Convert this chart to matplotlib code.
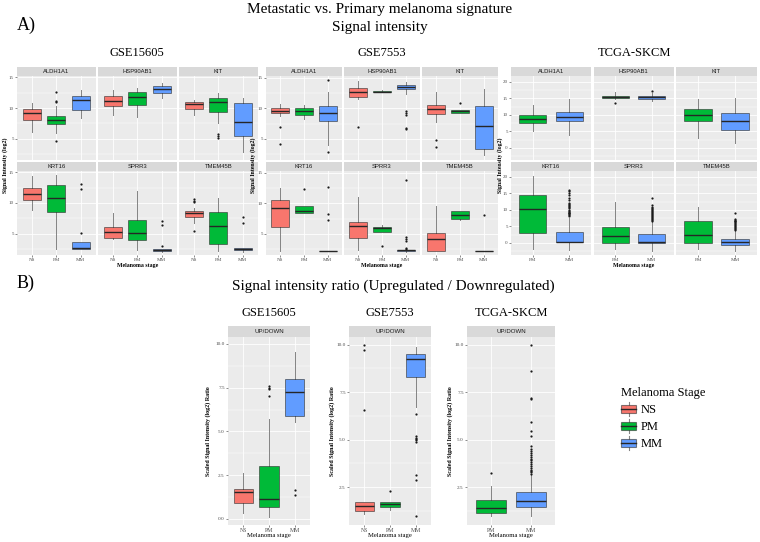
import matplotlib
matplotlib.use("Agg")
import matplotlib.pyplot as plt
from matplotlib.patches import Rectangle, Patch
from matplotlib.lines import Line2D
from matplotlib.legend_handler import HandlerBase

SERIF = ['Liberation Serif', 'DejaVu Serif']
SANS = ['Liberation Sans', 'DejaVu Sans']
plt.rcParams['font.family'] = SERIF

# ---------------- data ----------------
GENES = ["ALDH1A1", "HSP90AB1", "KIT", "KRT16", "SPRR3", "TMEM45B"]
STAGES_ARRAY = ["NS", "PM", "MM"]
STAGES_TCGA = ["PM", "MM"]
STAGE_COLORS = {"NS": "#F8766D", "PM": "#00BA38", "MM": "#619CFF"}

# per stage: [lower whisker, Q1, median, Q3, upper whisker]
gse15605_aldh1a1 = [[6.1, 8.0, 9.2, 9.9, 10.8], [6.0, 7.4, 8.0, 8.7, 10.3], [8.3, 9.6, 11.3, 11.9, 12.9]]
gse15605_aldh1a1_out = [[], [12.6, 11.2, 10.9, 4.6], []]
gse15605_hsp90ab1 = [[8.8, 10.4, 11.1, 12.0, 12.9], [8.6, 10.5, 11.8, 12.6, 13.2], [11.7, 12.5, 13.1, 13.6, 14.0]]
gse15605_hsp90ab1_out = [[], [], []]
gse15605_kit = [[8.9, 9.8, 10.7, 11.0, 11.3], [7.5, 9.3, 10.9, 11.6, 12.4], [2.9, 5.5, 7.8, 10.8, 11.6]]
gse15605_kit_out = [[], [5.7, 5.4, 5.2], []]
gse15605_krt16 = [[8.9, 10.5, 11.5, 12.5, 14.4], [2.6, 8.5, 10.8, 13.0, 14.6], [2.6, 2.6, 2.7, 3.6, 3.6]]
gse15605_krt16_out = [[], [], [13.1, 12.3, 5.2]]
gse15605_sprr3 = [[4.1, 4.35, 5.3, 6.1, 8.4], [2.4, 4.0, 5.2, 7.2, 12.0], [2.1, 2.2, 2.35, 2.6, 2.6]]
gse15605_sprr3_out = [[], [], [7.0, 6.4, 3.0]]
gse15605_tmem45b = [[6.8, 7.7, 8.3, 8.7, 9.2], [2.2, 3.3, 6.3, 8.6, 10.8], [2.1, 2.3, 2.45, 2.75, 2.75]]
gse15605_tmem45b_out = [[10.7, 10.4, 10.1, 5.4], [], [7.7, 6.7]]

gse7553_aldh1a1 = [[8.8, 9.2, 9.6, 10.0, 10.7], [8.2, 8.9, 9.6, 10.1, 10.5], [4.0, 7.9, 9.2, 10.4, 12.6]]
gse7553_aldh1a1_out = [[6.9, 4.2], [], [14.7, 2.9]]
gse7553_hsp90ab1 = [[11.6, 11.9, 12.6, 13.4, 14.5], [12.6, 12.6, 12.7, 12.9, 13.0], [12.4, 13.1, 13.5, 13.9, 14.3]]
gse7553_hsp90ab1_out = [[6.9], [], [9.6, 9.2, 8.9, 6.8, 6.6]]
gse7553_kit = [[7.8, 9.1, 9.9, 10.6, 12.7], [9.2, 9.2, 9.6, 9.7, 9.7], [2.4, 3.3, 7.1, 10.4, 13.1]]
gse7553_kit_out = [[4.8, 3.6], [10.8], []]
gse7553_krt16 = [[2.2, 6.1, 9.2, 10.5, 12.5], [8.5, 8.5, 8.7, 9.6, 9.6], [2.2, 2.2, 2.2, 2.2, 2.2]]
gse7553_krt16_out = [[], [12.4], [12.7, 8.2, 7.2]]
gse7553_sprr3 = [[2.3, 4.4, 6.3, 7.0, 11.0], [5.3, 5.3, 5.9, 6.2, 6.4], [2.1, 2.2, 2.3, 2.4, 2.4]]
gse7553_sprr3_out = [[], [3.1], [13.8, 4.5, 4.1, 3.9, 2.7, 2.6]]
gse7553_tmem45b = [[2.2, 2.2, 4.2, 5.2, 9.6], [7.2, 7.4, 8.1, 8.7, 8.8], [2.2, 2.2, 2.2, 2.2, 2.2]]
gse7553_tmem45b_out = [[], [], [8.1]]

tcga_aldh1a1 = [[5.0, 7.5, 8.6, 10.0, 13.0], [3.8, 8.0, 9.5, 11.0, 14.8]]
tcga_aldh1a1_out = [[], []]
tcga_hsp90ab1 = [[14.8, 15.0, 15.3, 15.8, 16.8], [14.3, 14.8, 15.3, 15.8, 16.5]]
tcga_hsp90ab1_out = [[13.5], [17.3]]
tcga_kit = [[3.0, 8.0, 10.0, 11.8, 14.8], [1.6, 5.5, 8.2, 10.5, 15.1]]
tcga_kit_out = [[], []]
tcga_krt16 = [[-1.8, 3.1, 10.2, 14.6, 20.4], [-2.2, 0.1, 0.2, 3.2, 7.6]]
tcga_krt16_out = [[], [15.9, 15.6, 15.0, 14.4, 13.6, 13.0, 12.2, 11.9, 11.6, 11.2, 10.8, 10.5,
                       10.1, 9.8, 9.5, 9.2, 8.9, 8.6, 8.3, 8.0]]
tcga_sprr3 = [[-1.8, 0.0, 2.0, 4.8, 12.3], [-2.4, 0.0, 0.1, 2.6, 6.2]]
tcga_sprr3_out = [[], [13.6, 11.4, 11.0, 10.6, 10.2, 9.9, 9.6, 9.3, 9.0, 8.7, 8.4, 8.1, 7.8,
                       7.5, 7.2, 6.9, 6.6]]
tcga_tmem45b = [[-2.0, 0.0, 2.3, 6.5, 10.8], [-2.4, -0.8, 0.1, 1.1, 3.6]]
tcga_tmem45b_out = [[], [9.0, 7.1, 6.9, 6.7, 6.5, 6.3, 6.0, 5.7, 5.4, 5.1, 4.8, 4.5, 4.2, 3.9]]

# ratio (UP/DOWN)
ratio_gse15605 = [[0.36, 0.9, 1.54, 1.71, 2.63], [0.13, 0.67, 1.13, 3.01, 5.7], [5.55, 5.9, 7.24, 7.98, 9.56]]
ratio_gse15605_out = [[], [7.57, 7.5, 7.45, 7.05], [1.67, 1.34]]
ratio_gse7553 = [[1.06, 1.22, 1.49, 1.7, 1.7], [1.28, 1.44, 1.58, 1.73, 1.73], [6.72, 8.31, 9.24, 9.5, 9.86]]
ratio_gse7553_out = [[10.0, 9.7, 6.55], [2.3], [6.37, 5.17, 5.1, 5.03, 4.95, 4.88, 3.12, 2.87, 0.96]]
ratio_tcga = [[0.96, 1.14, 1.4, 1.83, 2.53], [0.96, 1.43, 1.75, 2.22, 3.15]]
ratio_tcga_out = [[3.23], [10.0, 8.62, 7.2, 7.15, 5.9, 5.45, 5.2, 4.65, 4.5, 4.4, 4.3, 4.2, 4.1,
                          4.0, 3.9, 3.8, 3.7, 3.6, 3.5, 3.42, 3.35, 3.28, 3.2]]

# ---------------- styling ----------------
W, H = 760, 542
fig = plt.figure(figsize=(W / 100, H / 100), dpi=100)
fig.patch.set_facecolor('white')

PANEL_BG = '#EBEBEB'
STRIP_BG = '#D9D9D9'
EDGE = (0.2, 0.2, 0.2, 0.6)
MEDC = '#262626'
TICKC = '#4D4D4D'


def px_axes(x0, y0, x1, y1):
    return fig.add_axes([x0 / W, 1 - y1 / H, (x1 - x0) / W, (y1 - y0) / H])


def ftext(x, y, s, **kw):
    fig.text(x / W, 1 - y / H, s, **kw)


def strip(x0, y0, x1, y1, label, size=4.2):
    sax = px_axes(x0, y0, x1, y1)
    sax.set_facecolor(STRIP_BG)
    sax.set_xticks([]); sax.set_yticks([])
    for s in sax.spines.values():
        s.set_visible(False)
    sax.text(0.5, 0.5, label, ha='center', va='center', fontsize=size,
             family=SANS, color='#1A1A1A', transform=sax.transAxes)


def panel(x0, y0, x1, y1, stages, stats, outs, ylim, yticks, yminor,
          show_y, show_x, yfmt, ytick_size=3.6, xtick_size=3.6):
    ax = px_axes(x0, y0, x1, y1)
    ax.set_facecolor(PANEL_BG)
    for s in ax.spines.values():
        s.set_visible(False)
    n = len(stages)
    bstats = []
    for st, row, out in zip(stages, stats, outs):
        lo, q1, med, q3, hi = row
        bstats.append(dict(whislo=lo, q1=q1, med=med, q3=q3, whishi=hi, fliers=out, label=st))
    bp = ax.bxp(bstats, positions=list(range(1, n + 1)), widths=0.75, patch_artist=True,
                showcaps=False,
                boxprops=dict(edgecolor=EDGE, linewidth=0.7),
                whiskerprops=dict(color=EDGE, linewidth=0.7),
                medianprops=dict(color=MEDC, linewidth=1.0),
                flierprops=dict(marker='o', markersize=1.6, markerfacecolor='#1A1A1A',
                                markeredgecolor='none'))
    for patch, st in zip(bp['boxes'], stages):
        patch.set_facecolor(STAGE_COLORS[st])
    ax.set_xlim(0.4, n + 0.6)
    ax.set_ylim(*ylim)
    ax.set_xticks(list(range(1, n + 1)))
    ax.set_yticks(yticks)
    ax.set_yticks(yminor, minor=True)
    ax.set_axisbelow(True)
    ax.grid(which='major', color='white', linewidth=0.6)
    ax.grid(which='minor', axis='y', color='white', linewidth=0.3)
    ax.tick_params(which='minor', length=0)
    if show_y:
        ax.set_yticklabels([yfmt(v) for v in yticks], fontsize=ytick_size, color=TICKC)
        ax.tick_params(axis='y', length=1.5, width=0.4, color='#333333', pad=0.8)
    else:
        ax.set_yticklabels([])
        ax.tick_params(axis='y', length=0)
    if show_x:
        ax.set_xticklabels(stages, fontsize=xtick_size, color=TICKC)
        ax.tick_params(axis='x', length=1.5, width=0.4, color='#333333', pad=0.8)
    else:
        ax.set_xticklabels([])
        ax.tick_params(axis='x', length=0)
    return ax


fmt_int = lambda v: f"{v:g}"
fmt_1 = lambda v: f"{v:.1f}"

# ---------------- titles ----------------
ftext(380, 10, "Metastatic vs. Primary melanoma signature", ha='center', va='center', fontsize=11)
ftext(380, 28, "Signal intensity", ha='center', va='center', fontsize=11)
ftext(17, 25, "A)", ha='left', va='center', fontsize=13)
ftext(17, 283, "B)", ha='left', va='center', fontsize=13)
ftext(232, 286, "Signal intensity ratio (Upregulated / Downregulated)", ha='left', va='center', fontsize=11)

# ---------------- section A ----------------
ROWS_A = [(67, 76, 160), (162, 171, 255)]
groups_a = [
    dict(name="GSE15605", stages=STAGES_ARRAY,
         stats=[gse15605_aldh1a1, gse15605_hsp90ab1, gse15605_kit, gse15605_krt16, gse15605_sprr3, gse15605_tmem45b],
         outs=[gse15605_aldh1a1_out, gse15605_hsp90ab1_out, gse15605_kit_out, gse15605_krt16_out,
               gse15605_sprr3_out, gse15605_tmem45b_out],
         cols=[(17, 95.5), (98, 176.5), (179, 257.5)], ylim=(1.55, 15.2),
         yticks=[5, 10, 15], yminor=[2.5, 7.5, 12.5], ylab_x=5),
    dict(name="GSE7553", stages=STAGES_ARRAY,
         stats=[gse7553_aldh1a1, gse7553_hsp90ab1, gse7553_kit, gse7553_krt16, gse7553_sprr3, gse7553_tmem45b],
         outs=[gse7553_aldh1a1_out, gse7553_hsp90ab1_out, gse7553_kit_out, gse7553_krt16_out,
               gse7553_sprr3_out, gse7553_tmem45b_out],
         cols=[(266, 342), (344, 420), (422, 498)], ylim=(1.55, 15.3),
         yticks=[5, 10, 15], yminor=[2.5, 7.5, 12.5], ylab_x=253),
    dict(name="TCGA-SKCM", stages=STAGES_TCGA,
         stats=[tcga_aldh1a1, tcga_hsp90ab1, tcga_kit, tcga_krt16, tcga_sprr3, tcga_tmem45b],
         outs=[tcga_aldh1a1_out, tcga_hsp90ab1_out, tcga_kit_out, tcga_krt16_out,
               tcga_sprr3_out, tcga_tmem45b_out],
         cols=[(511, 591), (593.5, 673.5), (676, 757)], ylim=(-3.7, 21.8),
         yticks=[0, 5, 10, 15, 20], yminor=[-2.5, 2.5, 7.5, 12.5, 17.5], ylab_x=500.5),
]

for g in groups_a:
    cx = (g['cols'][0][0] + g['cols'][-1][1]) / 2
    ftext(cx, 53, g['name'], ha='center', va='center', fontsize=9)
    for gi, gene in enumerate(GENES):
        r, c = divmod(gi, 3)
        st, pt, pb = ROWS_A[r]
        x0, x1 = g['cols'][c]
        strip(x0, st, x1, pt, gene)
        panel(x0, pt, x1, pb, g['stages'], g['stats'][gi], g['outs'][gi], g['ylim'],
              g['yticks'], g['yminor'], show_y=(c == 0), show_x=(r == 1), yfmt=fmt_int)
    ftext(g['ylab_x'], (76 + 255) / 2, "Signal Intensity (log2)", rotation=90, ha='center',
          va='center', fontsize=4.2, fontweight='bold')
    ftext(cx, 265.5, "Melanoma stage", ha='center', va='center', fontsize=4.2, fontweight='bold')

# ---------------- section B ----------------
groups_b = [
    dict(name="GSE15605", stages=STAGES_ARRAY, stats=ratio_gse15605, outs=ratio_gse15605_out,
         x=(228, 310), ylim=(-0.35, 10.4), yticks=[0, 2.5, 5, 7.5, 10],
         yminor=[1.25, 3.75, 6.25, 8.75], ylab_x=208),
    dict(name="GSE7553", stages=STAGES_ARRAY, stats=ratio_gse7553, outs=ratio_gse7553_out,
         x=(349, 431), ylim=(0.5, 10.4), yticks=[2.5, 5, 7.5, 10],
         yminor=[1.25, 3.75, 6.25, 8.75], ylab_x=332),
    dict(name="TCGA-SKCM", stages=STAGES_TCGA, stats=ratio_tcga, outs=ratio_tcga_out,
         x=(467, 555), ylim=(0.5, 10.4), yticks=[2.5, 5, 7.5, 10],
         yminor=[1.25, 3.75, 6.25, 8.75], ylab_x=450),
]
for g in groups_b:
    x0, x1 = g['x']
    cx = (x0 + x1) / 2
    ftext(cx, 313, g['name'], ha='center', va='center', fontsize=9)
    strip(x0, 326, x1, 337, "UP/DOWN", size=4.4)
    panel(x0, 337, x1, 525, g['stages'], g['stats'], g['outs'], g['ylim'], g['yticks'],
          g['yminor'], show_y=True, show_x=True, yfmt=fmt_1, ytick_size=3.8, xtick_size=4.2)
    ftext(g['ylab_x'], (337 + 525) / 2, "Scaled Signal Intensity (log2) Ratio", rotation=90,
          ha='center', va='center', fontsize=4.3, fontweight='bold')
    ftext(cx, 536, "Melanoma stage", ha='center', va='center', fontsize=4.8)


# ---------------- legend ----------------
class BoxKey(HandlerBase):
    def create_artists(self, legend, orig_handle, xdescent, ydescent, width, height, fontsize, trans):
        x0, y0 = -xdescent, -ydescent
        fc = orig_handle.get_facecolor()
        whisk = Line2D([x0 + width / 2, x0 + width / 2], [y0, y0 + height], color=EDGE,
                       linewidth=0.8, transform=trans)
        box = Rectangle((x0, y0 + height * 0.22), width, height * 0.56, facecolor=fc,
                        edgecolor=EDGE, linewidth=0.8, transform=trans)
        med = Line2D([x0, x0 + width], [y0 + height / 2] * 2, color=MEDC, linewidth=1.0,
                     transform=trans)
        return [whisk, box, med]


handles = [Patch(facecolor=STAGE_COLORS[s], label=s) for s in STAGES_ARRAY]
fig.legend(handles=handles, labels=STAGES_ARRAY, loc='upper left',
           bbox_to_anchor=(621 / W, 1 - 387 / H), frameon=False,
           title="Melanoma Stage", prop=dict(family=SERIF, size=9),
           title_fontproperties=dict(family=SERIF, size=9),
           handlelength=1.2, handleheight=1.3, labelspacing=0.25, handletextpad=0.4,
           borderpad=0, borderaxespad=0, alignment='left',
           handler_map={Patch: BoxKey()})

fig.savefig("out.png", dpi=100, facecolor='white')
